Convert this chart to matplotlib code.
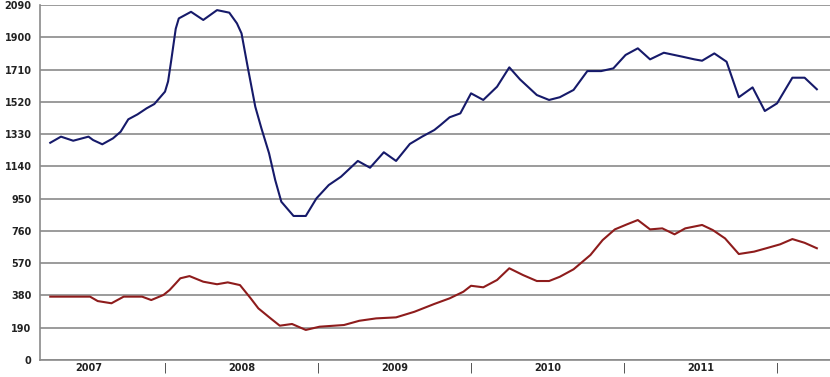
import matplotlib
matplotlib.use("Agg")
import matplotlib.pyplot as plt

# time in decimal years
blue_t = [2007.25, 2007.32, 2007.40, 2007.50, 2007.53, 2007.59, 2007.66, 2007.71,
          2007.76, 2007.82, 2007.88, 2007.93, 2008.00, 2008.02, 2008.04, 2008.07,
          2008.09, 2008.17, 2008.25, 2008.34, 2008.42, 2008.47, 2008.50, 2008.54,
          2008.59, 2008.63, 2008.68, 2008.72, 2008.76, 2008.84, 2008.92, 2008.99,
          2009.07, 2009.15, 2009.26, 2009.34, 2009.43, 2009.51, 2009.60, 2009.68,
          2009.76, 2009.80, 2009.86, 2009.93, 2010.00, 2010.08, 2010.17, 2010.25,
          2010.32, 2010.43, 2010.51, 2010.58, 2010.67, 2010.76, 2010.85, 2010.93,
          2011.01, 2011.09, 2011.17, 2011.26, 2011.38, 2011.46, 2011.51, 2011.59,
          2011.67, 2011.75, 2011.84, 2011.92, 2012.00, 2012.10, 2012.18, 2012.26]
blue_v = [1279, 1315, 1291, 1315, 1295, 1270, 1305, 1344,
          1417, 1446, 1482, 1507, 1580, 1640, 1760, 1950,
          2011, 2050, 2002, 2060, 2045, 1982, 1923, 1727,
          1491, 1364, 1217, 1060, 932, 848, 848, 952,
          1030, 1079, 1172, 1132, 1223, 1172, 1272, 1315,
          1354, 1383, 1429, 1452, 1570, 1531, 1609, 1723,
          1652, 1560, 1531, 1547, 1590, 1701, 1701, 1717,
          1796, 1835, 1770, 1809, 1786, 1770, 1762, 1805,
          1756, 1547, 1605, 1466, 1511, 1662, 1662, 1594]

red_t = [2007.25, 2007.51, 2007.56, 2007.65, 2007.73, 2007.85, 2007.91, 2007.99,
         2008.03, 2008.07, 2008.10, 2008.16, 2008.25, 2008.34, 2008.41, 2008.49,
         2008.56, 2008.61, 2008.69, 2008.75, 2008.83, 2008.92, 2009.01, 2009.17,
         2009.27, 2009.38, 2009.51, 2009.63, 2009.76, 2009.86, 2009.95, 2010.00,
         2010.08, 2010.17, 2010.25, 2010.34, 2010.43, 2010.51, 2010.58, 2010.67,
         2010.78, 2010.86, 2010.94, 2011.02, 2011.09, 2011.17, 2011.25, 2011.33,
         2011.40, 2011.51, 2011.58, 2011.66, 2011.75, 2011.85, 2011.93, 2012.02,
         2012.10, 2012.18, 2012.26]
red_v = [373, 373, 347, 334, 373, 373, 353, 383,
         412, 451, 481, 494, 461, 446, 457, 441,
         363, 304, 245, 202, 212, 177, 196, 206,
         231, 245, 251, 284, 330, 363, 402, 437,
         428, 471, 540, 500, 465, 465, 490, 534,
         618, 706, 769, 799, 824, 769, 775, 740,
         775, 795, 765, 716, 624, 638, 658, 681,
         712, 690, 658]

years = ["2007", "2008", "2009", "2010", "2011"]
year_mid = [2007.5, 2008.5, 2009.5, 2010.5, 2011.5]
year_sep = [2008, 2009, 2010, 2011, 2012]
y_ticks = [0, 190, 380, 570, 760, 950, 1140, 1330, 1520, 1710, 1900, 2090]

fig = plt.figure(figsize=(8.3, 3.77), dpi=100)
ax = fig.add_axes([0.0482, 0.0451, 0.9518, 0.9416])

ax.plot(blue_t, blue_v, color="#161a6a", lw=1.5)
ax.plot(red_t, red_v, color="#8e1c1c", lw=1.5)

ax.set_xlim(2007.183, 2012.346)
ax.set_ylim(0, 2090)
ax.set_yticks(y_ticks)
ax.set_yticklabels([str(v) for v in y_ticks], fontsize=7, fontweight="bold", color="#222222")
ax.yaxis.grid(True, color="#8a8a8a", lw=1.2)
ax.tick_params(axis="y", length=0, pad=6)

ax.set_xticks(year_mid)
ax.set_xticklabels(years, fontsize=7, fontweight="bold", color="#222222")
ax.set_xticks(year_sep, minor=True)
ax.set_xticklabels(["|"] * len(year_sep), minor=True, fontsize=7, color="#222222")
ax.tick_params(axis="x", which="both", length=0, pad=2)

for s in ["top", "right"]:
    ax.spines[s].set_visible(False)
for s in ["left", "bottom"]:
    ax.spines[s].set_color("#8a8a8a")
    ax.spines[s].set_linewidth(1.2)

fig.savefig("out.png", dpi=100)
